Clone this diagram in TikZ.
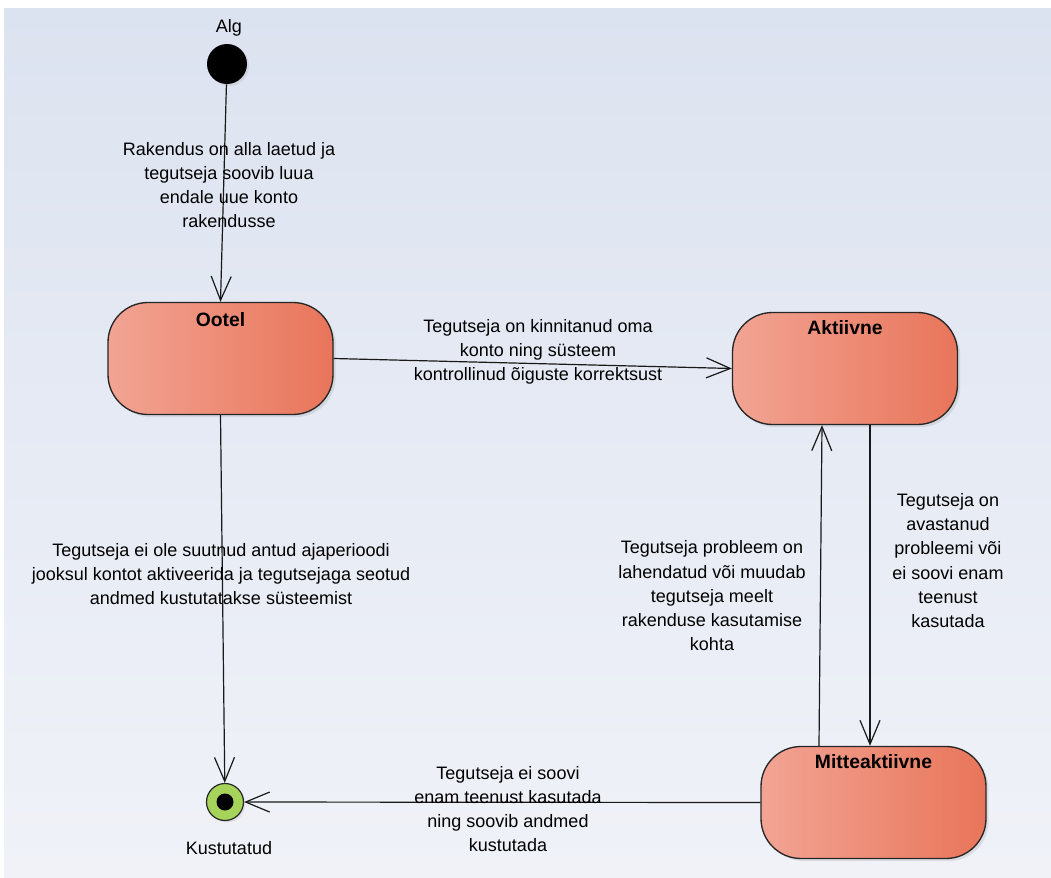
\documentclass[tikz,border=0pt]{standalone}
\usepackage{fontspec}
\setmainfont{Liberation Sans}
\usetikzlibrary{arrows.meta,shadows,calc}
\definecolor{bgtop}{RGB}{220,227,240}
\definecolor{bgbot}{RGB}{240,242,248}
\definecolor{stleft}{RGB}{242,164,148}
\definecolor{stright}{RGB}{232,117,90}
\definecolor{endgreen}{RGB}{166,212,90}
\begin{document}
\begin{tikzpicture}[x=0.75pt,y=-0.75pt,
  state/.style={draw=black!85, line width=1pt, rounded corners=30pt,
    minimum width=168.75pt, minimum height=84pt, inner sep=0pt,
    left color=stleft, right color=stright,
    drop shadow={shadow xshift=2pt,shadow yshift=-2pt,opacity=0.18}},
  title/.style={font=\bfseries\fontsize{14.5}{17}\selectfont, inner sep=0pt},
  lbl/.style={font=\fontsize{13.5}{18.2}\selectfont, align=center, inner sep=0pt},
  flow/.style={draw=black!90, line width=0.9pt,
    -{Straight Barb[length=18pt,width=15pt,line width=0.9pt]}},
  initial/.style={circle, fill=black, minimum size=30pt, inner sep=0pt,
    drop shadow={shadow xshift=1.5pt,shadow yshift=-1.5pt,opacity=0.15}},
  final/.style={circle, fill=endgreen, draw=black!85, line width=0.9pt,
    minimum size=27.75pt, inner sep=0pt,
    drop shadow={shadow xshift=1.5pt,shadow yshift=-1.5pt,opacity=0.15}},
  finaldot/.style={circle, fill=black, minimum size=12.75pt, inner sep=0pt}]

% canvas
\useasboundingbox (0,0) rectangle (1051,878);
\fill[white] (0,0) rectangle (1051,878);
\fill[top color=bgtop, bottom color=bgbot] (4,8) rectangle (1051,877);

% pseudo-states
\node[initial] (start) at (227,64) {};
\node[lbl] (startname) at (229,28) {Alg};
\node[final] (end) at (225,802) {};
\node[finaldot] (enddot) at (end) {};
\node[lbl] (endname) at (229,848) {Kustutatud};

% states
\node[state] (ootel) at (220.5,358.5) {};
\node[title] (ootelt) at ($(ootel.north)+(0,18)$) {Ootel};
\node[state] (aktiivne) at (845,368.5) {};
\node[title] (aktiivnet) at ($(aktiivne.north)+(0,16)$) {Aktiivne};
\node[state] (mitte) at (873.5,802.5) {};
\node[title] (mittet) at ($(mitte.north)+(0,16)$) {Mitteaktiivne};

% transitions
\draw[flow] (start) -- (ootel.north);
\draw[flow] (ootel.east) -- (aktiivne.west);
\draw[flow] (ootel.south) -- (end);
\draw[flow] ($(aktiivne.south)+(25,0)$) -- ($(mitte.north)+(-3.5,0)$);
\draw[flow] ($(mitte.north)+(-54.5,0)$) -- ($(aktiivne.south)+(-23,0)$);
\draw[flow] (mitte.west) -- (end);

% transition labels
\node[lbl] (l1) at (229,185) {Rakendus on alla laetud ja\\tegutseja soovib luua\\endale uue konto\\rakendusse};
\node[lbl] (l2) at (538,352) {Tegutseja on kinnitanud oma\\konto ning süsteem\\kontrollinud õiguste korrektsust};
\node[lbl] (l3) at (221,574) {Tegutseja ei ole suutnud antud ajaperioodi\\jooksul kontot aktiveerida ja tegutsejaga seotud\\andmed kustutatakse süsteemist};
\node[lbl] (l4) at (948,560.5) {Tegutseja on\\avastanud\\probleemi või\\ei soovi enam\\teenust\\kasutada};
\node[lbl] (l5) at (712,596) {Tegutseja probleem on\\lahendatud või muudab\\tegutseja meelt\\rakenduse kasutamise\\kohta};
\node[lbl] (l6) at (508,809) {Tegutseja ei soovi\\enam teenust kasutada\\ning soovib andmed\\kustutada};
\end{tikzpicture}
\end{document}
